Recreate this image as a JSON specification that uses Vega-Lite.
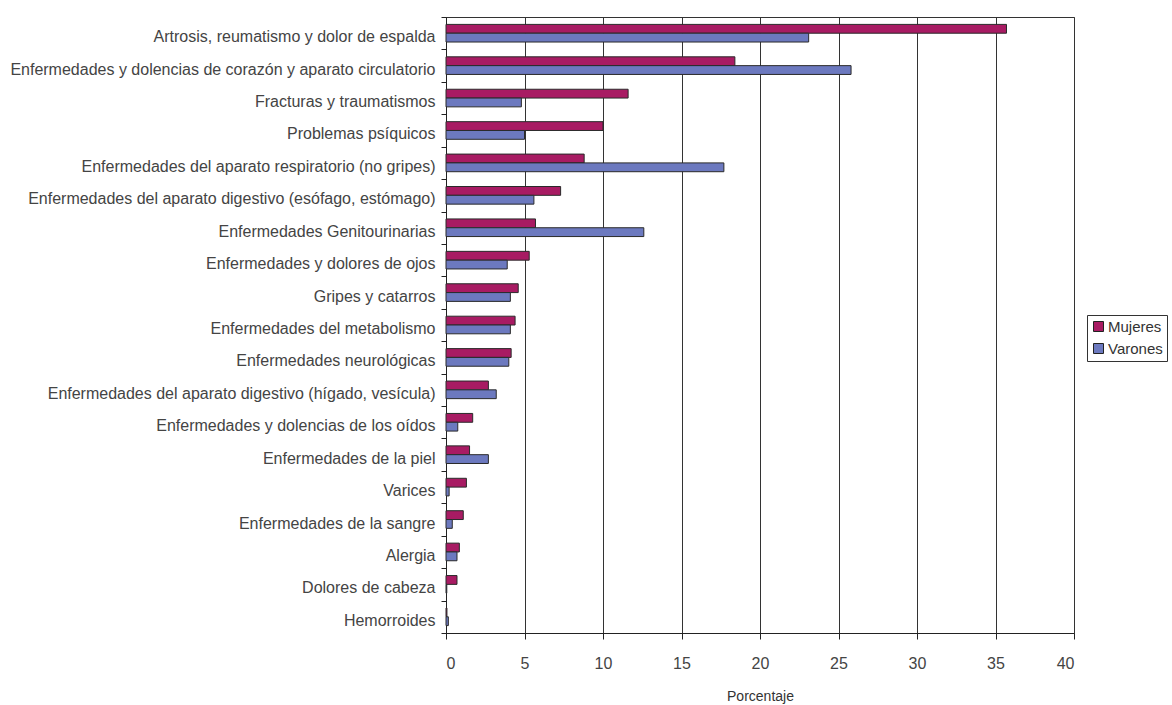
{
  "$schema": "https://vega.github.io/schema/vega-lite/v6.json",
  "autosize": "none",
  "width": 628,
  "height": 616,
  "padding": {"left": 446, "top": 17, "right": 98, "bottom": 72},
  "background": "white",
  "config": {
    "view": {"stroke": "#333", "strokeWidth": 1},
    "font": "Liberation Sans"
  },
  "data": {
    "values": [
      {"cat": "Artrosis, reumatismo y dolor de espalda", "sexo": "Mujeres", "valor": 35.7},
      {"cat": "Artrosis, reumatismo y dolor de espalda", "sexo": "Varones", "valor": 23.1},
      {"cat": "Enfermedades y dolencias de corazón y aparato circulatorio", "sexo": "Mujeres", "valor": 18.4},
      {"cat": "Enfermedades y dolencias de corazón y aparato circulatorio", "sexo": "Varones", "valor": 25.8},
      {"cat": "Fracturas y traumatismos", "sexo": "Mujeres", "valor": 11.6},
      {"cat": "Fracturas y traumatismos", "sexo": "Varones", "valor": 4.8},
      {"cat": "Problemas psíquicos", "sexo": "Mujeres", "valor": 10.0},
      {"cat": "Problemas psíquicos", "sexo": "Varones", "valor": 5.0},
      {"cat": "Enfermedades del aparato respiratorio (no gripes)", "sexo": "Mujeres", "valor": 8.8},
      {"cat": "Enfermedades del aparato respiratorio (no gripes)", "sexo": "Varones", "valor": 17.7},
      {"cat": "Enfermedades del aparato digestivo (esófago, estómago)", "sexo": "Mujeres", "valor": 7.3},
      {"cat": "Enfermedades del aparato digestivo (esófago, estómago)", "sexo": "Varones", "valor": 5.6},
      {"cat": "Enfermedades Genitourinarias", "sexo": "Mujeres", "valor": 5.7},
      {"cat": "Enfermedades Genitourinarias", "sexo": "Varones", "valor": 12.6},
      {"cat": "Enfermedades y dolores de ojos", "sexo": "Mujeres", "valor": 5.3},
      {"cat": "Enfermedades y dolores de ojos", "sexo": "Varones", "valor": 3.9},
      {"cat": "Gripes y catarros", "sexo": "Mujeres", "valor": 4.6},
      {"cat": "Gripes y catarros", "sexo": "Varones", "valor": 4.1},
      {"cat": "Enfermedades del metabolismo", "sexo": "Mujeres", "valor": 4.4},
      {"cat": "Enfermedades del metabolismo", "sexo": "Varones", "valor": 4.1},
      {"cat": "Enfermedades neurológicas", "sexo": "Mujeres", "valor": 4.15},
      {"cat": "Enfermedades neurológicas", "sexo": "Varones", "valor": 4.0},
      {"cat": "Enfermedades del aparato digestivo (hígado, vesícula)", "sexo": "Mujeres", "valor": 2.7},
      {"cat": "Enfermedades del aparato digestivo (hígado, vesícula)", "sexo": "Varones", "valor": 3.2},
      {"cat": "Enfermedades y dolencias de los oídos", "sexo": "Mujeres", "valor": 1.7},
      {"cat": "Enfermedades y dolencias de los oídos", "sexo": "Varones", "valor": 0.75},
      {"cat": "Enfermedades de la piel", "sexo": "Mujeres", "valor": 1.5},
      {"cat": "Enfermedades de la piel", "sexo": "Varones", "valor": 2.7},
      {"cat": "Varices", "sexo": "Mujeres", "valor": 1.3},
      {"cat": "Varices", "sexo": "Varones", "valor": 0.2},
      {"cat": "Enfermedades de la sangre", "sexo": "Mujeres", "valor": 1.1},
      {"cat": "Enfermedades de la sangre", "sexo": "Varones", "valor": 0.4},
      {"cat": "Alergia", "sexo": "Mujeres", "valor": 0.85},
      {"cat": "Alergia", "sexo": "Varones", "valor": 0.7},
      {"cat": "Dolores de cabeza", "sexo": "Mujeres", "valor": 0.7},
      {"cat": "Dolores de cabeza", "sexo": "Varones", "valor": 0.05},
      {"cat": "Hemorroides", "sexo": "Mujeres", "valor": 0.06},
      {"cat": "Hemorroides", "sexo": "Varones", "valor": 0.15}
    ]
  },
  "mark": {"type": "bar", "stroke": "#2a2a2a", "strokeWidth": 1},
  "encoding": {
    "y": {
      "field": "cat",
      "type": "nominal",
      "sort": null,
      "scale": {"paddingInner": 0, "paddingOuter": 0},
      "axis": {
        "title": null,
        "tickBand": "extent",
        "domainColor": "#222",
        "tickColor": "#222",
        "tickSize": 5,
        "labelPadding": 6,
        "labelOffset": 3.5,
        "labelFontSize": 16,
        "labelColor": "#444",
        "labelLimit": 500,
        "grid": false
      }
    },
    "yOffset": {
      "field": "sexo",
      "type": "nominal",
      "sort": ["Mujeres", "Varones"],
      "scale": {"paddingInner": 0, "paddingOuter": 0.84}
    },
    "x": {
      "field": "valor",
      "type": "quantitative",
      "scale": {"domain": [0, 40], "nice": false},
      "axis": {
        "title": "Porcentaje",
        "values": [0, 5, 10, 15, 20, 25, 30, 35, 40],
        "grid": true,
        "gridColor": "#333",
        "gridOpacity": 1,
        "domainColor": "#222",
        "tickColor": "#222",
        "tickSize": 6,
        "labelPadding": 16,
        "labelFontSize": 16,
        "labelColor": "#444",
        "titleFontSize": 14,
        "titleFontWeight": "normal",
        "titleColor": "#333",
        "titlePadding": 18
      }
    },
    "color": {
      "field": "sexo",
      "type": "nominal",
      "sort": ["Mujeres", "Varones"],
      "scale": {"domain": ["Mujeres", "Varones"], "range": ["#A81B63", "#6C79BF"]},
      "legend": {
        "title": null,
        "orient": "none",
        "legendX": 641,
        "legendY": 298,
        "symbolType": "square",
        "symbolSize": 100,
        "symbolStrokeColor": "#222",
        "symbolStrokeWidth": 1,
        "labelFontSize": 15,
        "labelColor": "#333",
        "labelOffset": 2,
        "rowPadding": 6,
        "strokeColor": "#333",
        "padding": 4
      }
    }
  }
}
